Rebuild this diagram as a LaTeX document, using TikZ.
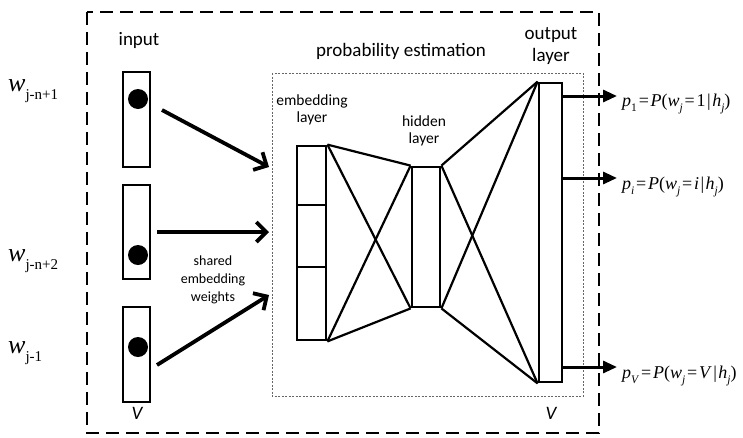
\documentclass[tikz,border=0pt]{standalone}
\usepackage{fontspec}
\setmainfont{Carlito}
\newfontfamily\tms{Liberation Serif}
\usetikzlibrary{arrows.meta,calc}
\newcommand{\lowsub}[1]{\raisebox{-0.28em}{\fontsize{11.5}{11.5}\selectfont #1}}
\newcommand{\wsub}[1]{\raisebox{-0.3em}{\fontsize{15}{15}\selectfont #1}}
\newcommand{\eqk}{\kern1.8pt=\kern1.8pt}
\tikzset{
  layerbox/.style={draw, line width=2.8pt, minimum width=27pt, inner sep=0pt},
  netline/.style={line width=2.2pt},
  bigarrow/.style={line width=3.8pt, -{Straight Barb[length=10pt,width=20pt]}},
  outarrow/.style={line width=3pt, -{Triangle[length=14pt,width=12pt]}},
  lbl/.style={font=\fontsize{19}{22}\selectfont, align=center, inner sep=0pt},
  slbl/.style={font=\fontsize{15.5}{17}\selectfont, align=center, inner sep=0pt},
  tlbl/.style={font=\fontsize{14}{18}\selectfont, align=center, inner sep=0pt},
  wlbl/.style={font=\tms\fontsize{26}{26}\selectfont, inner sep=0pt, anchor=west},
  frm/.style={font=\tms\fontsize{18}{20}\selectfont, inner sep=0pt, anchor=west},
  dot/.style={circle, fill=black, minimum size=20pt, inner sep=0pt},
}
\begin{document}
\begin{tikzpicture}[x=1pt,y=-1pt]
\useasboundingbox (0,0) rectangle (743,437);
% frames
\draw[line width=2.8pt, dash pattern=on 13pt off 7pt] (87,12) rectangle (599,433);
\draw[gray!80!black, line width=1pt, dash pattern=on 2pt off 1.5pt] (272,73) rectangle (583,396);
% labels
\node[lbl] (linput) at (139,40) {input};
\node[lbl] (lprob) at (401,51) {probability estimation};
\node[lbl] (lout) at (551,46) {output\\layer};
\node[slbl] (lemb) at (312,110) {embedding\\layer};
\node[slbl] (lhid) at (424,131) {hidden\\layer};
\node[tlbl] (lshared) at (213,280) {shared\\embedding\\weights};
\node[lbl, font=\fontsize{19}{22}\selectfont\itshape] (lv1) at (137,413) {V};
\node[lbl, font=\fontsize{19}{22}\selectfont\itshape] (lv2) at (551,413) {V};
% word labels
\node[wlbl] (w1) at (8,91) {\textit{w}\wsub{j-n+1}};
\node[wlbl] (w2) at (8,261) {\textit{w}\wsub{j-n+2}};
\node[wlbl] (w3) at (8,353) {\textit{w}\wsub{j-1}};
% input boxes
\node[layerbox, minimum height=95pt] (in1) at (136.5,119.5) {};
\node[layerbox, minimum height=94pt] (in2) at (136.5,232) {};
\node[layerbox, minimum height=95pt] (in3) at (136.5,354.5) {};
\node[dot] (d1) at (138,99) {};
\node[dot] (d2) at (138,255) {};
\node[dot] (d3) at (138,347) {};
% arrows to embedding
\coordinate (a1s) at (162,110); \coordinate (a1e) at (269,167);
\coordinate (a2s) at (157,232); \coordinate (a2e) at (269,232);
\coordinate (a3s) at (157,365); \coordinate (a3e) at (269,295);
\draw[bigarrow] (a1s) -- (a1e);
\draw[bigarrow] (a2s) -- (a2e);
\draw[bigarrow] (a3s) -- (a3e);
% embedding layer
\node[layerbox, minimum width=29pt, minimum height=194pt] (emb) at (311.5,243) {};
\coordinate (e1l) at (297,205); \coordinate (e1r) at (326,205);
\coordinate (e2l) at (297,267); \coordinate (e2r) at (326,267);
\draw[line width=2.8pt] (e1l) -- (e1r);
\draw[line width=2.8pt] (e2l) -- (e2r);
% hidden layer
\node[layerbox, minimum width=28pt, minimum height=140pt] (hid) at (426,237) {};
% output layer
\node[layerbox, minimum width=23pt, minimum height=299pt] (out) at (550.5,232.5) {};
% connections
\draw[netline] (emb.north east) -- (hid.north west);
\draw[netline] (emb.north east) -- (hid.south west);
\draw[netline] (emb.south east) -- (hid.north west);
\draw[netline] (emb.south east) -- (hid.south west);
\draw[netline] (hid.north east) -- (out.north west);
\draw[netline] (hid.north east) -- (out.south west);
\draw[netline] (hid.south east) -- (out.north west);
\draw[netline] (hid.south east) -- (out.south west);
% output arrows
\node[frm] (p1) at (622,104) {\textit{p}\lowsub{1}\eqk\textit{P}(\textit{w}\lowsub{\textit{j}}\eqk1\kern1.5pt|\kern1.5pt\textit{h}\lowsub{\textit{j}})};
\node[frm] (pi) at (622,187) {\textit{p}\lowsub{\textit{i}}\eqk\textit{P}(\textit{w}\lowsub{\textit{j}}\eqk\textit{i}\kern1.5pt|\kern1.5pt\textit{h}\lowsub{\textit{j}})};
\node[frm] (pv) at (622,376) {\textit{p}\lowsub{\textit{V}}\eqk\textit{P}(\textit{w}\lowsub{\textit{j}}\eqk\textit{V}\kern1.5pt|\kern1.5pt\textit{h}\lowsub{\textit{j}})};
\coordinate (o1) at (562,96); \coordinate (o1e) at (617,96);
\coordinate (o2) at (562,178); \coordinate (o2e) at (617,178);
\coordinate (o3) at (562,367); \coordinate (o3e) at (617,367);
\draw[outarrow] (o1) -- (o1e);
\draw[outarrow] (o2) -- (o2e);
\draw[outarrow] (o3) -- (o3e);
\end{tikzpicture}
\end{document}
